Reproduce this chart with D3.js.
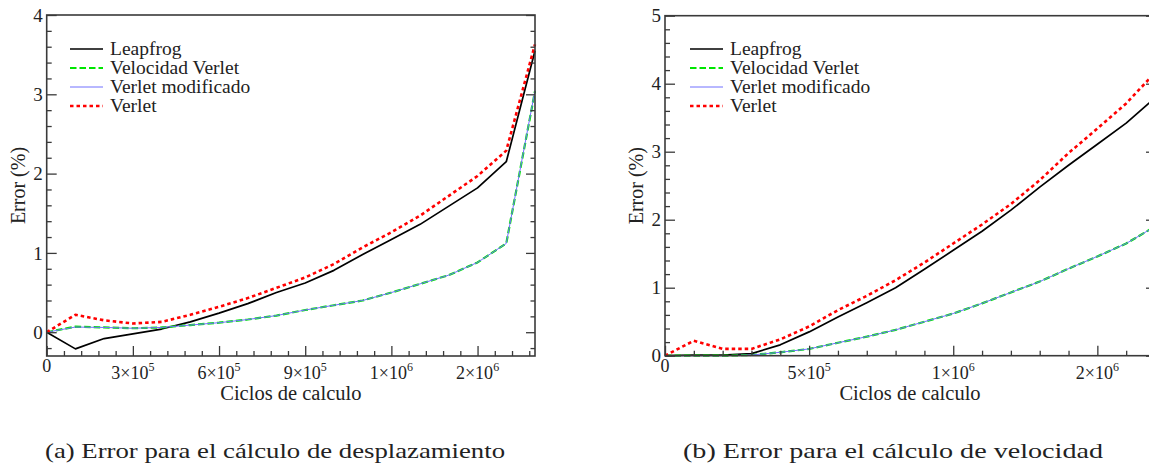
<!DOCTYPE html>
<html>
<head>
<meta charset="utf-8">
<script src="https://cdn.jsdelivr.net/npm/d3@7"></script>
<style>
  html, body { margin: 0; padding: 0; background: #fff; }
  svg { display: block; }
</style>
</head>
<body>
<svg id="chart" width="1149" height="470"></svg>
<script>
// ---------------- data ----------------
const cycles = [0, 100000, 200000, 300000, 400000, 500000, 600000, 700000, 800000, 900000,
                1000000, 1100000, 1200000, 1300000, 1400000, 1500000, 1600000, 1700000];

const seriesNames = ["Leapfrog", "Velocidad Verlet", "Verlet modificado", "Verlet"];

// (a) displacement error (%)
const dispLeapfrog   = [0, -0.21, -0.08, -0.02, 0.04, 0.13, 0.24, 0.36, 0.50, 0.62, 0.78, 0.98, 1.17, 1.36, 1.59, 1.82, 2.15, 3.55];
const dispVelVerlet  = [0, 0.07, 0.06, 0.05, 0.06, 0.09, 0.12, 0.16, 0.21, 0.28, 0.34, 0.40, 0.50, 0.61, 0.72, 0.88, 1.12, 3.04];
const dispVerletMod  = [0, 0.065, 0.06, 0.05, 0.06, 0.09, 0.12, 0.16, 0.21, 0.28, 0.34, 0.40, 0.50, 0.61, 0.72, 0.88, 1.12, 3.05];
const dispVerlet     = [0, 0.22, 0.15, 0.11, 0.13, 0.22, 0.32, 0.43, 0.56, 0.69, 0.86, 1.07, 1.26, 1.47, 1.72, 1.97, 2.29, 3.63];

// (b) velocity error (%)
const velLeapfrog    = [0, 0.01, 0.01, 0.03, 0.16, 0.35, 0.57, 0.78, 1.00, 1.27, 1.55, 1.83, 2.14, 2.48, 2.80, 3.11, 3.42, 3.79];
const velVelVerlet   = [0, 0.00, 0.00, 0.01, 0.05, 0.10, 0.19, 0.28, 0.38, 0.50, 0.62, 0.77, 0.93, 1.09, 1.28, 1.46, 1.65, 1.90];
const velVerletMod   = [0, 0.00, 0.00, 0.01, 0.05, 0.10, 0.19, 0.28, 0.38, 0.50, 0.62, 0.77, 0.93, 1.09, 1.28, 1.46, 1.65, 1.90];
const velVerlet      = [0, 0.22, 0.10, 0.10, 0.24, 0.43, 0.67, 0.88, 1.11, 1.37, 1.65, 1.93, 2.23, 2.58, 2.98, 3.34, 3.71, 4.16];

// tick values and labels
const xMajorA = [0, 300000, 600000, 900000, 1200000, 1500000];
const xLabelA = [["0", ""], ["3×10", "5"], ["6×10", "5"], ["9×10", "5"], ["1×10", "6"], ["2×10", "6"]];
const xMinorA = [60000, 120000, 180000, 240000, 360000, 420000, 480000, 540000, 660000, 720000, 780000, 840000,
                 960000, 1020000, 1080000, 1140000, 1260000, 1320000, 1380000, 1440000, 1560000, 1620000, 1680000];
const yMajorA = [0, 1, 2, 3, 4];
const yMinorA = [-0.2, 0.2, 0.4, 0.6, 0.8, 1.2, 1.4, 1.6, 1.8, 2.2, 2.4, 2.6, 2.8, 3.2, 3.4, 3.6, 3.8];

const xMajorB = [0, 500000, 1000000, 1500000];
const xLabelB = [["0", ""], ["5×10", "5"], ["1×10", "6"], ["2×10", "6"]];
const xMinorB = [100000, 200000, 300000, 400000, 600000, 700000, 800000, 900000, 1100000, 1200000, 1300000, 1400000, 1600000, 1700000];
const yMajorB = [0, 1, 2, 3, 4, 5];
const yMinorB = [0.2, 0.4, 0.6, 0.8, 1.2, 1.4, 1.6, 1.8, 2.2, 2.4, 2.6, 2.8, 3.2, 3.4, 3.6, 3.8, 4.2, 4.4, 4.6, 4.8];

const xTitle = "Ciclos de calculo";
const yTitle = "Error (%)";
const captions = ["(a) Error para el cálculo de desplazamiento", "(b) Error para el cálculo de velocidad"];

// ---------------- styles ----------------
const FONT = "'Liberation Serif', 'Times New Roman', Times, serif";
const TXT = "#222";
const styles = [
  { color: "#000000", width: 1.7, dash: null },
  { color: "#00e600", width: 2.2, dash: "6.5,3" },
  { color: "#7070ff", width: 1.0, dash: null },
  { color: "#ff0000", width: 2.6, dash: "3.5,3" }
];

const svg = d3.select("#chart");

function txt(sel) {
  return sel.append("text").attr("font-family", FONT).attr("fill", TXT);
}

function panel(cfg) {
  const g = svg.append("g");
  const x = d3.scaleLinear().domain(cfg.xDomain).range(cfg.xRange);
  const y = d3.scaleLinear().domain(cfg.yDomain).range(cfg.yRange);
  const [x0, x1] = cfg.xRange, [y0, y1] = cfg.yRange; // y0 bottom, y1 top

  // lines
  const line = d3.line().x((d, i) => x(cycles[i])).y(d => y(d));
  cfg.series.forEach((s, i) => {
    const st = styles[i];
    g.append("path").datum(s)
      .attr("fill", "none")
      .attr("stroke", st.color)
      .attr("stroke-width", st.width)
      .attr("stroke-dasharray", st.dash)
      .attr("stroke-linejoin", "round")
      .attr("d", line);
  });

  const frameColor = "#3a3a3a";
  const gxM = g.append("g").attr("transform", `translate(0,${y0})`)
    .call(d3.axisBottom(x).tickValues(cfg.xMajor).tickSizeInner(-10).tickSizeOuter(0).tickFormat(""));
  const gxm = g.append("g").attr("transform", `translate(0,${y0})`)
    .call(d3.axisBottom(x).tickValues(cfg.xMinor).tickSizeInner(-5).tickSizeOuter(0).tickFormat(""));
  const gyM = g.append("g").attr("transform", `translate(${x0},0)`)
    .call(d3.axisLeft(y).tickValues(cfg.yMajor).tickSizeInner(-10).tickSizeOuter(0).tickFormat(""));
  const gym = g.append("g").attr("transform", `translate(${x0},0)`)
    .call(d3.axisLeft(y).tickValues(cfg.yMinor).tickSizeInner(-5).tickSizeOuter(0).tickFormat(""));
  const gyR = g.append("g").attr("transform", `translate(${x1},0)`)
    .call(d3.axisRight(y).tickValues(cfg.yMajor).tickSizeInner(-9).tickSizeOuter(0).tickFormat(""));
  const gyr = g.append("g").attr("transform", `translate(${x1},0)`)
    .call(d3.axisRight(y).tickValues(cfg.yMinor).tickSizeInner(-4.5).tickSizeOuter(0).tickFormat(""));
  [gxM, gxm, gyM, gym, gyR, gyr].forEach(a => {
    a.select(".domain").remove();
    a.selectAll("text").remove();
    a.selectAll("line").attr("stroke", frameColor).attr("stroke-width", 1.3);
  });

  // x labels with superscripts
  cfg.xMajor.forEach((v, i) => {
    const [base, exp] = cfg.xLabels[i];
    const t = txt(g)
      .attr("x", x(v))
      .attr("y", y0 + (exp ? 23 : 16))
      .attr("text-anchor", "middle")
      .attr("font-size", 18);
    t.append("tspan").text(base);
    if (exp) t.append("tspan").attr("dy", -8).attr("font-size", 12).text(exp);
  });

  // y labels
  cfg.yMajor.forEach(v => {
    txt(g).attr("x", x0 - 4).attr("y", y(v)).attr("dy", "0.35em")
      .attr("text-anchor", "end").attr("font-size", 19).text(d3.format("d")(v));
  });

  // frame
  g.append("rect").attr("x", x0).attr("y", y1).attr("width", x1 - x0).attr("height", y0 - y1)
    .attr("fill", "none").attr("stroke", frameColor).attr("stroke-width", 1.6);

  // axis titles
  txt(g).attr("x", (x0 + x1) / 2).attr("y", y0 + 44).attr("text-anchor", "middle")
    .attr("font-size", 20.5).text(xTitle);
  txt(g).attr("transform", `translate(${x0 - 22},${(y0 + y1) / 2}) rotate(-90)`)
    .attr("text-anchor", "middle").attr("font-size", 20).text(yTitle);

  // legend
  const lx = cfg.legendX, ly = 49, step = 19;
  seriesNames.forEach((name, i) => {
    const st = styles[i];
    const yy = ly + i * step;
    g.append("line").attr("x1", lx).attr("x2", lx + 33).attr("y1", yy).attr("y2", yy)
      .attr("stroke", st.color).attr("stroke-width", st.width).attr("stroke-dasharray", st.dash);
    txt(g).attr("x", lx + 40).attr("y", yy).attr("dy", "0.33em").attr("font-size", 19.5).text(name);
  });

  // caption
  txt(g).attr("x", cfg.captionX).attr("y", 458).attr("font-size", 22)
    .attr("textLength", cfg.captionW).attr("lengthAdjust", "spacingAndGlyphs")
    .text(cfg.caption);
}

panel({
  xDomain: [0, 1700000], xRange: [46.7, 535],
  yDomain: [-0.3, 4], yRange: [356, 15],
  series: [dispLeapfrog, dispVelVerlet, dispVerletMod, dispVerlet],
  xMajor: xMajorA, xLabels: xLabelA, xMinor: xMinorA,
  yMajor: yMajorA, yMinor: yMinorA,
  legendX: 70, caption: captions[0], captionX: 45, captionW: 460
});

panel({
  xDomain: [0, 1700000], xRange: [665, 1155],
  yDomain: [0, 5], yRange: [355.7, 15.7],
  series: [velLeapfrog, velVelVerlet, velVerletMod, velVerlet],
  xMajor: xMajorB, xLabels: xLabelB, xMinor: xMinorB,
  yMajor: yMajorB, yMinor: yMinorB,
  legendX: 690, caption: captions[1], captionX: 683, captionW: 420
});
</script>
</body>
</html>
